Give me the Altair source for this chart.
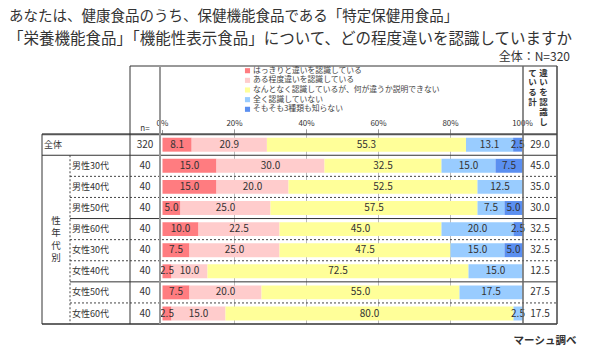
import altair as alt
import pandas as pd

# ---------------- data ----------------
rows = ["全体", "男性30代", "男性40代", "男性50代", "男性60代",
        "女性30代", "女性40代", "女性50代", "女性60代"]
n_values = [320, 40, 40, 40, 40, 40, 40, 40, 40]
cats = ["はっきりと違いを認識している", "ある程度違いを認識している",
        "なんとなく認識しているが、何が違うか説明できない",
        "全く認識していない", "そもそも3種類も知らない"]
clearly = [8.1, 15.0, 15.0, 5.0, 10.0, 7.5, 2.5, 7.5, 2.5]
somewhat = [20.9, 30.0, 20.0, 25.0, 22.5, 25.0, 10.0, 20.0, 15.0]
vaguely = [55.3, 32.5, 52.5, 57.5, 45.0, 47.5, 72.5, 55.0, 80.0]
not_at_all = [13.1, 15.0, 12.5, 7.5, 20.0, 15.0, 15.0, 17.5, 2.5]
unknown = [2.5, 7.5, 0.0, 5.0, 2.5, 5.0, 0.0, 0.0, 0.0]
totals = [29.0, 45.0, 35.0, 30.0, 32.5, 32.5, 12.5, 27.5, 17.5]
tick_values = [0, 20, 40, 60, 80, 100]
tick_labels = ["0%", "20%", "40%", "60%", "80%", "100%"]
colors = ["#FF7C80", "#FFCCCC", "#FFFF99", "#99CCFF", "#5B8FF0"]

title1 = "あなたは、健康食品のうち、保健機能食品である「特定保健用食品」"
title2 = "「栄養機能食品」「機能性表示食品」について、どの程度違いを認識していますか"
base_note = "全体：N=320"
source = "マーシュ調べ"

# ---------------- layout ----------------
FONT = "Noto Sans CJK JP"
TXT = "#333333"
W, H = 584, 343
PCT_PX = 3.6
X0_PAGE = 162.5
ROW_PX = 21.1
ROW0_PAGE = 144.7
xmin = -(X0_PAGE - 8) / PCT_PX
xmax = xmin + W / PCT_PX
ymin = -(ROW0_PAGE - 8) / ROW_PX
ymax = ymin + H / ROW_PX
xs = alt.Scale(domain=[xmin, xmax], nice=False, zero=False)
ys = alt.Scale(domain=[ymin, ymax], nice=False, zero=False, reverse=True)


def px(page):
    return page - 8


def rpx(r):
    return (r - ymin) * ROW_PX


TOP = 66
BOTTOM_R = len(rows) - 0.5

# ---------------- bars ----------------
series = [clearly, somewhat, vaguely, not_at_all, unknown]
recs = []
for i, row in enumerate(rows):
    start = 0.0
    for k, cat in enumerate(cats):
        v = series[k][i]
        recs.append(dict(row=row, r=i, cat=cat, k=k, v=v, x0=start, x1=start + v))
        start += v
bars_df = pd.DataFrame(recs)
cscale = alt.Scale(domain=cats, range=colors)

grid = alt.Chart(pd.DataFrame({"t": tick_values[1:-1]})).mark_rule(
    color="#bbbbbb", strokeWidth=1
).encode(
    x=alt.X("t:Q", scale=xs, axis=None),
    y=alt.value(px(129)), y2=alt.value(rpx(BOTTOM_R)),
)

bars = alt.Chart(bars_df).transform_filter("datum.v > 0").transform_calculate(
    ya="datum.r - 0.33", yb="datum.r + 0.33"
).mark_bar().encode(
    x=alt.X("x0:Q", scale=xs, axis=None), x2="x1:Q",
    y=alt.Y("ya:Q", scale=ys, axis=None), y2="yb:Q",
    color=alt.Color("cat:N", scale=cscale, legend=None),
)

blabels = alt.Chart(bars_df).transform_filter("datum.v > 0").transform_calculate(
    xm="(datum.x0 + datum.x1) / 2"
).mark_text(font=FONT, fontSize=10, color=TXT).encode(
    x=alt.X("xm:Q", scale=xs, axis=None),
    y=alt.Y("r:Q", scale=ys, axis=None),
    text=alt.Text("v:Q", format=".1f"),
)

# axis tick labels
ticks_df = pd.DataFrame({"t": tick_values, "lab": tick_labels})
tlabels = alt.Chart(ticks_df).mark_text(font=FONT, fontSize=8, color=TXT).encode(
    x=alt.X("t:Q", scale=xs, axis=None), y=alt.value(px(124)), text="lab:N"
)
tticks = alt.Chart(ticks_df).mark_rule(color="#999999").encode(
    x=alt.X("t:Q", scale=xs, axis=None), y=alt.value(px(130)), y2=alt.value(px(134))
)

# ---------------- table lines ----------------
def hline(rlist, x1, x2, color="#333333", width=1, dash=None):
    kw = dict(color=color, strokeWidth=width)
    if dash:
        kw["strokeDash"] = dash
    return alt.Chart(pd.DataFrame({"r": rlist})).mark_rule(**kw).encode(
        y=alt.Y("r:Q", scale=ys, axis=None), x=alt.value(px(x1)), x2=alt.value(px(x2))
    )


def vline(xp, y1, y2, color="#333333", width=1, dash=None):
    kw = dict(color=color, strokeWidth=width)
    if dash:
        kw["strokeDash"] = dash
    return alt.Chart(pd.DataFrame({"a": [0]})).mark_rule(**kw).encode(
        x=alt.value(px(xp)), y=alt.value(y1), y2=alt.value(y2)
    )


lines = [
    hline([-0.5], 42, 557, color="#555555", width=2),
    hline([0.5], 42, 557),
    hline([BOTTOM_R], 42, 557, width=1.5),
    hline([3.5, 6.5], 70, 557),
    hline([1.5, 2.5, 4.5, 5.5, 7.5], 70, 557, color="#444444", dash=[2, 2]),
    alt.Chart(pd.DataFrame({"a": [0]})).mark_rule(color="#333333").encode(
        y=alt.value(px(TOP)), x=alt.value(px(130)), x2=alt.value(px(557))
    ),
    vline(42, rpx(-0.5), rpx(BOTTOM_R)),
    vline(70, rpx(0.5), rpx(BOTTOM_R), color="#444444", dash=[2, 2]),
    vline(130, px(TOP), rpx(BOTTOM_R)),
    vline(160, px(TOP), rpx(BOTTOM_R), color="#999999", width=2),
    vline(523, px(TOP), rpx(BOTTOM_R), color="#666666", width=1.5),
    vline(557, px(TOP), rpx(BOTTOM_R), color="#444444", width=1.5),
]

# ---------------- table text ----------------
tab_df = pd.DataFrame({"row": rows, "r": list(range(len(rows))),
                       "n": n_values, "tot": totals})

lab_all = alt.Chart(tab_df).transform_filter("datum.r == 0").mark_text(
    font=FONT, fontSize=9, color=TXT, align="left"
).encode(x=alt.value(px(44)), y=alt.Y("r:Q", scale=ys, axis=None), text="row:N")
lab_grp = alt.Chart(tab_df).transform_filter("datum.r > 0").mark_text(
    font=FONT, fontSize=9, color=TXT, align="left"
).encode(x=alt.value(px(72)), y=alt.Y("r:Q", scale=ys, axis=None), text="row:N")
n_txt = alt.Chart(tab_df).mark_text(font=FONT, fontSize=10, color=TXT).encode(
    x=alt.value(px(145)), y=alt.Y("r:Q", scale=ys, axis=None), text="n:Q"
)
tot_txt = alt.Chart(tab_df).mark_text(font=FONT, fontSize=10, color=TXT).encode(
    x=alt.value(px(540)), y=alt.Y("r:Q", scale=ys, axis=None),
    text=alt.Text("tot:Q", format=".1f"),
)


def txt(s, x, y, size=10, align="center", baseline="middle", weight="normal",
        color=TXT, line_height=None):
    kw = dict(font=FONT, fontSize=size, align=align, baseline=baseline,
              fontWeight=weight, color=color)
    if line_height:
        kw["lineBreak"] = "\n"
        kw["lineHeight"] = line_height
    return alt.Chart(pd.DataFrame({"t": [s]})).mark_text(**kw).encode(
        x=alt.value(px(x)), y=alt.value(px(y)), text="t:N"
    )


texts = [
    txt(title1, 9, 17, size=14.5, align="left"),
    txt(title2, 8, 38.5, size=15.5, align="left"),
    txt(base_note, 570, 57, size=12, align="right"),
    txt(source, 545, 341, size=10.5, weight="bold"),
    txt("n=", 145, 129, size=8),
    txt("性\n年\n代\n別", 56, 216, size=9.5, baseline="top", line_height=12.3),
    txt("違\nい\nを\n認\n識\nし", 543.5, 68.5, size=8.5, baseline="top",
        weight="bold", line_height=9.8),
    txt("て\nい\nる\n計", 532.5, 68.5, size=8.5, baseline="top",
        weight="bold", line_height=9.8),
]

# ---------------- legend ----------------
leg_df = pd.DataFrame({"cat": cats, "i": list(range(len(cats)))})
leg_sym = alt.Chart(leg_df).transform_calculate(
    ly="62.7 + datum.i * 9.65"
).mark_square(size=26, opacity=1).encode(
    x=alt.value(px(247.5)), y=alt.Y("ly:Q", scale=None),
    color=alt.Color("cat:N", scale=cscale, legend=None),
)
leg_txt = alt.Chart(leg_df).transform_calculate(
    ly="62.7 + datum.i * 9.65"
).mark_text(font=FONT, fontSize=7.8, color="#444444", align="left").encode(
    x=alt.value(px(253)), y=alt.Y("ly:Q", scale=None), text="cat:N"
)

chart = alt.layer(
    grid, bars, blabels, tticks, tlabels, *lines,
    lab_all, lab_grp, n_txt, tot_txt, *texts, leg_sym, leg_txt
).properties(
    width=W, height=H, autosize=alt.AutoSizeParams(type="none"), padding=0,
    background="white",
).configure_view(stroke=None)

chart.save("out.html", embed_options={"renderer": "svg", "actions": False})
